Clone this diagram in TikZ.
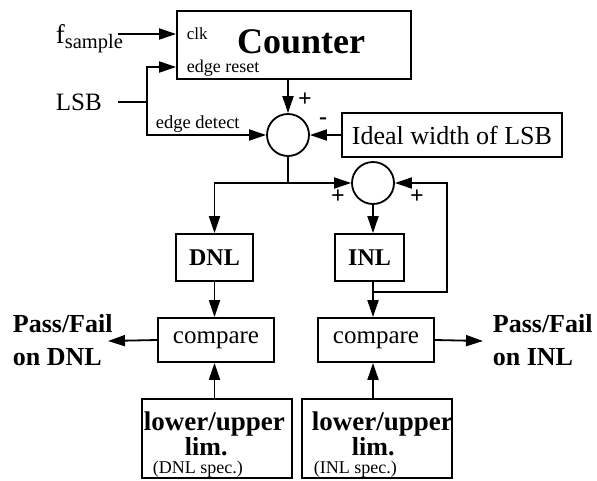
\documentclass[tikz,border=0pt]{standalone}
\usepackage{fontspec}
\setmainfont{Liberation Serif}
\usetikzlibrary{arrows.meta}
\newcommand\fsz[1]{\fontsize{#1}{#1}\selectfont}

\begin{document}
\begin{tikzpicture}[x=1pt,y=-1pt,line width=1.8pt,
  blk/.style={draw, rectangle, inner sep=0pt, line width=1.8pt},
  sumnode/.style={draw, circle, minimum size=42pt, inner sep=0pt, line width=1.8pt},
  arr/.style={-{Triangle[length=17pt,width=11pt]}},
  lbl/.style={inner sep=0pt, anchor=base west},
  sgn/.style={inner sep=0pt, font=\bfseries\fsz{24}}]

\useasboundingbox (0,0) rectangle (597,480);

% ---- blocks ----
\node[blk, minimum width=234pt, minimum height=68pt] (counter) at (294,45) {};
\node[inner sep=0pt, anchor=base, font=\bfseries\fsz{36}] (countertxt) at (301,53) {Counter};
\node[lbl, font=\fsz{17}] (clk) at (186,39) {clk};
\node[lbl, font=\fsz{18}] (rst) at (186,72) {edge reset};

\node[sumnode] (sum1) at (288,135) {};
\node[sumnode] (sum2) at (373,183) {};

\node[blk, minimum width=220pt, minimum height=44pt, font=\fsz{26}] (ideal) at (452,135) {Ideal width of LSB};

\node[blk, minimum width=77pt, minimum height=47pt, font=\bfseries\fsz{24}] (dnl) at (214.5,257.5) {DNL};
\node[blk, minimum width=69pt, minimum height=47pt, font=\bfseries\fsz{24}] (inl) at (369.5,257.5) {INL};

\node[blk, minimum width=116pt, minimum height=44pt, font=\fsz{25}] (cmp1) at (216,340) {compare};
\node[blk, minimum width=116pt, minimum height=44pt, font=\fsz{25}] (cmp2) at (376,340) {compare};

\node[blk, minimum width=150pt, minimum height=79pt] (lim1) at (217,438.5) {};
\node[blk, minimum width=150pt, minimum height=79pt] (lim2) at (377,438.5) {};
\node[lbl, font=\bfseries\fsz{27}] (lim1a) at (143,430) {lower/upper};
\node[lbl, font=\bfseries\fsz{26}] (lim1b) at (184,455) {lim.};
\node[lbl, font=\fsz{18}] (lim1c) at (152,473) {(DNL spec.)};
\node[lbl, font=\bfseries\fsz{27}] (lim2a) at (311,430) {lower/upper};
\node[lbl, font=\bfseries\fsz{26}] (lim2b) at (351,455) {lim.};
\node[lbl, font=\fsz{18}] (lim2c) at (313,473) {(INL spec.)};

% ---- inputs and outputs ----
\node[lbl, font=\fsz{27}] (fs) at (55,43) {f\raisebox{-5pt}{\fsz{20.5}sample}};
\node[lbl, font=\fsz{25}] (lsb) at (55,110) {LSB};
\node[lbl, font=\fsz{18.5}] (edet) at (155,128) {edge detect};

\node[inner sep=0pt, anchor=west, align=left, font=\bfseries\fsz{26}] (pf1) at (12,340)
  {Pass/Fail\\[7pt]on DNL};
\node[inner sep=0pt, anchor=west, align=left, font=\bfseries\fsz{26}] (pf2) at (492,340)
  {Pass/Fail\\[7pt]on INL};

% ---- signs at the summing points ----
\node[sgn] (p1) at (305,100) {+};
\node[sgn] (m1) at (323,121) {-};
\node[sgn] (p2) at (338,197) {+};
\node[sgn] (p3) at (417,197) {+};

% ---- connectors ----
\coordinate (fsend) at (118,34);
\coordinate (lsbend) at (118,102);
\coordinate (split) at (147,102);
\coordinate (j) at (288,183);
\coordinate (fb) at (447,292);
\coordinate (out1) at (108,341);
\coordinate (out2) at (483,341);

\draw[arr] (fsend) -- (fsend -| counter.west);
\draw (lsbend) -- (split);
\draw[arr] (split) |- ([yshift=-22pt]counter.west);
\draw[arr] (split) |- (sum1.west);
\draw[arr] (sum1 |- counter.south) -- (sum1.north);
\draw[arr] (ideal.west) -- (sum1.east);

\draw (sum1.south) -- (j);
\draw[arr] (j) -| (dnl.north);
\draw[arr] (j) -- (sum2.west);
\draw[arr] (sum2.south) -- (sum2.south |- inl.north);

\draw[arr] (sum2 |- inl.south) -- (sum2 |- cmp2.north);
\draw[arr] (sum2 |- fb) -| (fb |- sum2.east) -- (sum2.east);

\draw[arr] (dnl.south) -- (dnl.south |- cmp1.north);
\draw[arr] (dnl.south |- lim1.north) -- (dnl.south |- cmp1.south);
\draw[arr] (sum2 |- lim2.north) -- (sum2 |- cmp2.south);

\draw[arr] (cmp1.west) -- (out1);
\draw[arr] (cmp2.east) -- (out2);
\end{tikzpicture}
\end{document}
